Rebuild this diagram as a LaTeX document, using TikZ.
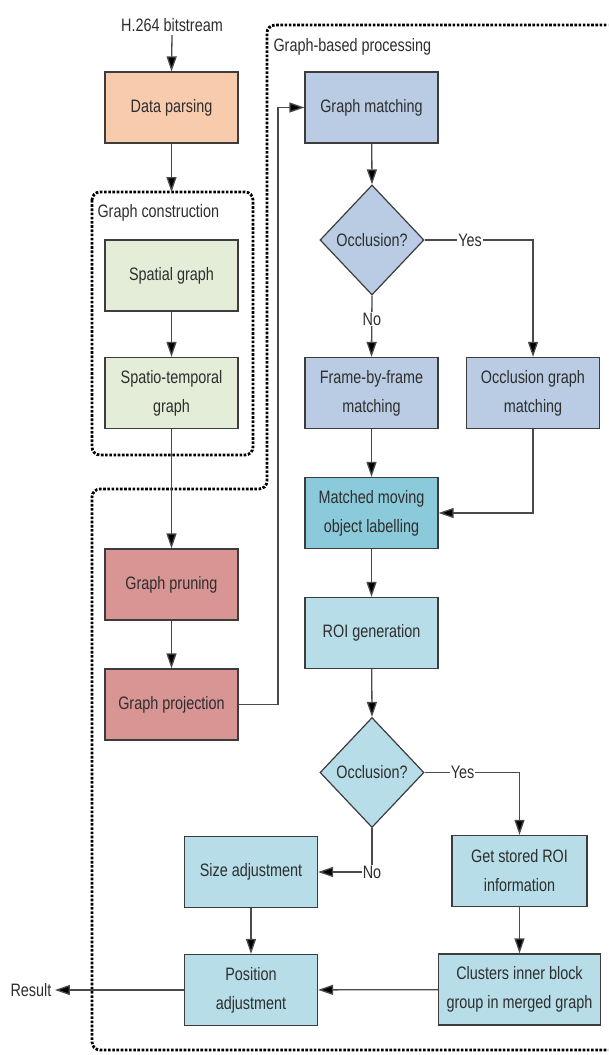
\documentclass[tikz,border=0pt]{standalone}
\usepackage{fontspec}
\setmainfont{Liberation Sans}[FakeStretch=0.8]
\usetikzlibrary{arrows.meta,shapes.geometric}
\definecolor{peach}{HTML}{F8CBAD}
\definecolor{sage}{HTML}{E4EDD8}
\definecolor{steel}{HTML}{B9CCE4}
\definecolor{rose}{HTML}{D99594}
\definecolor{sky}{HTML}{B6DDE8}
\definecolor{teal}{HTML}{8BCADA}
\definecolor{ink}{HTML}{2E2E2E}
\definecolor{edge}{HTML}{3C3C3C}
\definecolor{wire}{HTML}{4A4A4A}
\tikzset{
  txt/.style={text=ink, font=\fontsize{18}{29}\selectfont},
  box/.style={txt, draw=edge, line width=1.2pt, minimum width=133pt,
    minimum height=71pt, align=center, inner sep=0pt},
  decide/.style={txt, diamond, draw=edge, line width=1.2pt, minimum width=104pt,
    minimum height=110pt, inner sep=0pt},
  group/.style={line width=2.8pt, dash pattern=on 2.6pt off 1.6pt, rounded corners=8pt},
  arr/.style={draw=wire, line width=1.3pt, -{Triangle[length=15pt,width=10pt,fill=black]}},
  lbl/.style={txt, fill=white, inner sep=1pt},
}
\begin{document}
\begin{tikzpicture}[x=1pt,y=-1pt]
\useasboundingbox (0,0) rectangle (608,1055);
\clip (0,0) rectangle (608,1055);

% group frames
\draw[group] (92,192) rectangle (253,455);
\node[txt, anchor=west] (gctitle) at (94,213) {Graph construction};
\draw[group] (640,25) -- (267,25) -- (267,489) -- (92,489) -- (92,1050) -- (640,1050);
\node[txt, anchor=west] (gbtitle) at (270,47) {Graph-based processing};

% left column
\node[txt] (src) at (172,25) {H.264 bitstream};
\node[box, fill=peach] (dp) at (171.5,107.5) {Data parsing};
\node[box, fill=sage] (sg) at (171.5,275.5) {Spatial graph};
\node[box, fill=sage] (st) at (171.5,393) {Spatio-temporal\\graph};
\node[box, fill=rose] (gp) at (171.5,584.5) {Graph pruning};
\node[box, fill=rose] (gpj) at (171.5,704.5) {Graph projection};
\coordinate (gctop) at (171.5,192);
\coordinate (bend) at (278,704.5);

% right column
\node[box, fill=steel] (gm) at (371.5,107.5) {Graph matching};
\node[decide, fill=steel] (d1) at (372,240) {Occlusion?};
\node[box, fill=steel] (ff) at (371.5,393) {Frame-by-frame\\matching};
\node[box, fill=steel] (og) at (533,393) {Occlusion graph\\matching};
\node[box, fill=teal] (mm) at (371.5,513) {Matched moving\\object labelling};
\node[box, fill=sky] (roi) at (371.5,633) {ROI generation};
\node[decide, fill=sky] (d2) at (372,772.5) {Occlusion?};
\node[box, fill=sky] (sa) at (251,872) {Size adjustment};
\node[box, fill=sky, minimum width=135pt] (gs) at (519.5,871) {Get stored ROI\\information};
\node[box, fill=sky] (pa) at (251,990) {Position\\adjustment};
\node[box, fill=sky, minimum width=162pt] (cl) at (519.5,989.5) {Clusters inner block\\group in merged graph};
\node[txt] (res) at (31,990) {Result};

% connectors
\draw[arr] (src.south) -- (dp.north);
\draw[arr] (dp.south) -- (gctop);
\draw[arr] (sg) -- (st);
\draw[arr] (st) -- (gp);
\draw[arr] (gp) -- (gpj);
\draw[arr] (gpj.east) -- (bend) |- (gm.west);
\draw[arr] (gm) -- (d1.north);
\draw[arr] (d1.east) -- node[lbl, pos=0.42] {Yes} (d1.east -| og.north) -- (og.north);
\draw[arr] (d1.south) -- node[lbl, pos=0.38] {No} (ff.north);
\draw[arr] (ff) -- (mm);
\draw[arr] (og.south) |- (mm.east);
\draw[arr] (mm) -- (roi);
\draw[arr] (roi) -- (d2.north);
\draw[arr] (d2.east) -- node[lbl, pos=0.4] {Yes} (d2.east -| gs.north) -- (gs.north);
\draw[arr] (d2.south) -- (d2.south |- sa.east) node[lbl] {No} -- (sa.east);
\draw[arr] (sa) -- (pa);
\draw[arr] (gs) -- (cl);
\draw[arr] (cl) -- (pa);
\draw[arr] (pa.west) -- (res.east);
\end{tikzpicture}
\end{document}
